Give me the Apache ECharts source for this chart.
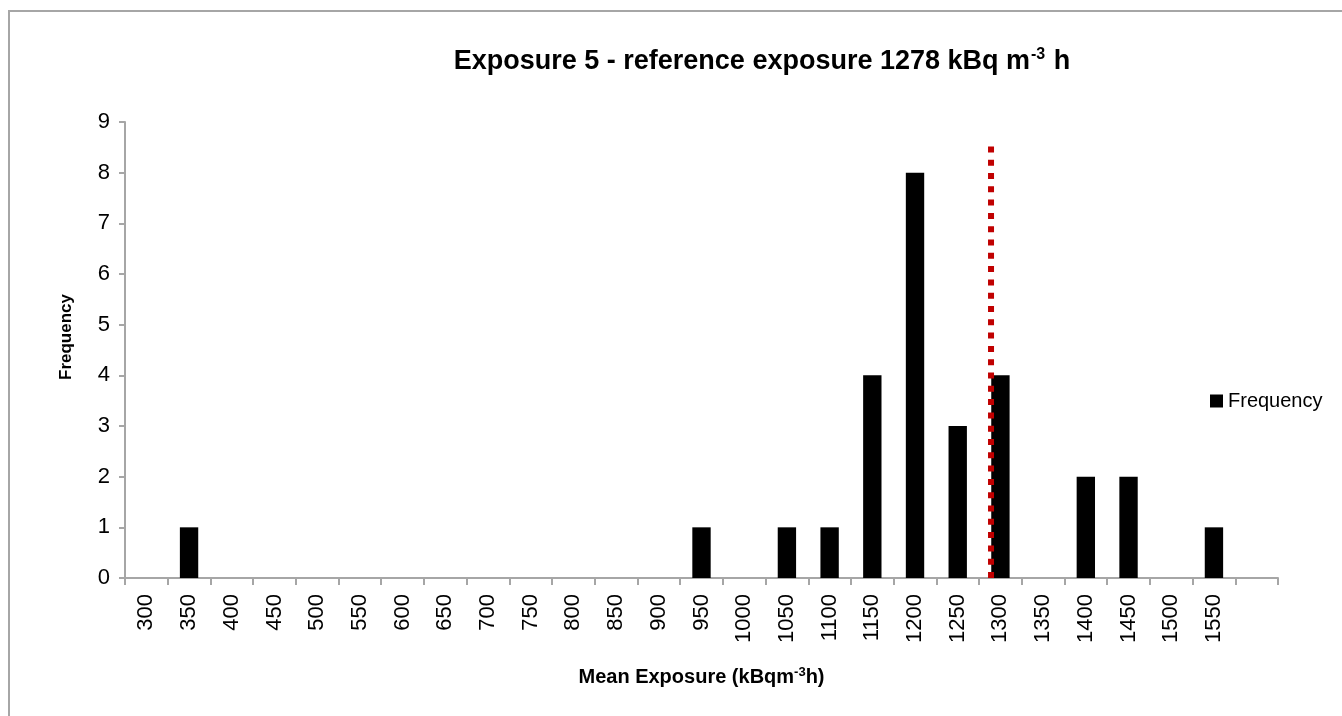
<!DOCTYPE html>
<html>
<head>
<meta charset="utf-8">
<script src="https://cdn.jsdelivr.net/npm/echarts@6/dist/echarts.min.js"></script>
<style>
  html, body { margin: 0; padding: 0; background: #fff; }
  #chart { width: 1342px; height: 716px; }
</style>
</head>
<body>
<div id="chart"></div>
<script>
// histogram bins (kBq m-3 h), last bin is the empty "More" slot
var bins = ['300', '350', '400', '450', '500', '550', '600', '650', '700', '750', '800',
  '850', '900', '950', '1000', '1050', '1100', '1150', '1200', '1250', '1300', '1350',
  '1400', '1450', '1500', '1550', ''];
var frequency = [0, 1, 0, 0, 0, 0, 0, 0, 0, 0, 0,
  0, 0, 1, 0, 1, 1, 4, 8, 3, 4, 0,
  2, 2, 0, 1, 0];
// reference exposure marker
var refX = [1278, 1278];
var refY = [0, 8.52];

var chart = echarts.init(document.getElementById('chart'));
var font = 'Liberation Sans';

var option = {
  backgroundColor: '#fff',
  animation: false,
  graphic: [
    {
      type: 'rect',
      shape: { x: 9, y: 11, width: 1400, height: 800 },
      style: { fill: 'none', stroke: '#a6a6a6', lineWidth: 2 },
      silent: true
    },
    {
      type: 'text',
      x: 762,
      y: 62,
      style: {
        text: 'Exposure 5 - reference exposure 1278 kBq m{sup|-3} h',
        x: 0, y: 0,
        align: 'center',
        verticalAlign: 'middle',
        fontFamily: font,
        fontWeight: 'bold',
        fontSize: 27,
        fill: '#000',
        rich: {
          sup: { fontSize: 16, fontWeight: 'bold', fontFamily: font, verticalAlign: 'top', padding: [0, 1, 14, 1] }
        }
      }
    }
  ],
  legend: {
    data: ['Frequency'],
    left: 1205,
    top: 386,
    orient: 'vertical',
    itemWidth: 13,
    itemHeight: 13,
    itemGap: 4,
    icon: 'rect',
    textStyle: { fontFamily: font, fontSize: 20, color: '#000' }
  },
  grid: { left: 125, right: 64, top: 122, bottom: 138 },
  xAxis: [
    {
      type: 'category',
      data: bins,
      boundaryGap: true,
      name: 'Mean Exposure (kBqm{sup|-3}h)',
      nameLocation: 'middle',
      nameGap: 88,
      nameTextStyle: {
        fontFamily: font, fontWeight: 'bold', fontSize: 20, color: '#000',
        rich: { sup: { fontSize: 13, fontWeight: 'bold', fontFamily: font, padding: [0, 0, 9, 0] } }
      },
      axisLine: { lineStyle: { color: '#a6a6a6', width: 2 } },
      axisTick: { show: true, interval: 0, length: 7, lineStyle: { color: '#a6a6a6', width: 2 } },
      axisLabel: {
        interval: 0, rotate: 90, margin: 16,
        fontFamily: font, fontSize: 22, color: '#000'
      },
      splitLine: { show: false }
    },
    {
      // hidden linear scale for the reference line
      type: 'value',
      min: 264,
      max: 1614,
      show: false
    }
  ],
  yAxis: {
    type: 'value',
    min: 0,
    max: 9,
    interval: 1,
    name: 'Frequency',
    nameLocation: 'middle',
    nameGap: 50,
    nameTextStyle: { fontFamily: font, fontWeight: 'bold', fontSize: 17, color: '#000', padding: [0, 0, 0, 26] },
    axisLine: { show: true, lineStyle: { color: '#a6a6a6', width: 2 } },
    axisTick: { show: true, length: 6, lineStyle: { color: '#a6a6a6', width: 2 } },
    axisLabel: { fontFamily: font, fontSize: 22, color: '#000', margin: 15 },
    splitLine: { show: false }
  },
  series: [
    {
      name: 'Frequency',
      type: 'bar',
      xAxisIndex: 0,
      data: frequency,
      barWidth: '43%',
      itemStyle: { color: '#000' }
    },
    {
      name: 'Reference',
      type: 'line',
      xAxisIndex: 1,
      data: refX.map(function (x, i) { return [x, refY[i]]; }),
      symbol: 'none',
      lineStyle: { color: '#c00000', width: 6, type: [6, 7.3], cap: 'butt' },
      z: 5
    }
  ]
};
chart.setOption(option);
</script>
</body>
</html>
